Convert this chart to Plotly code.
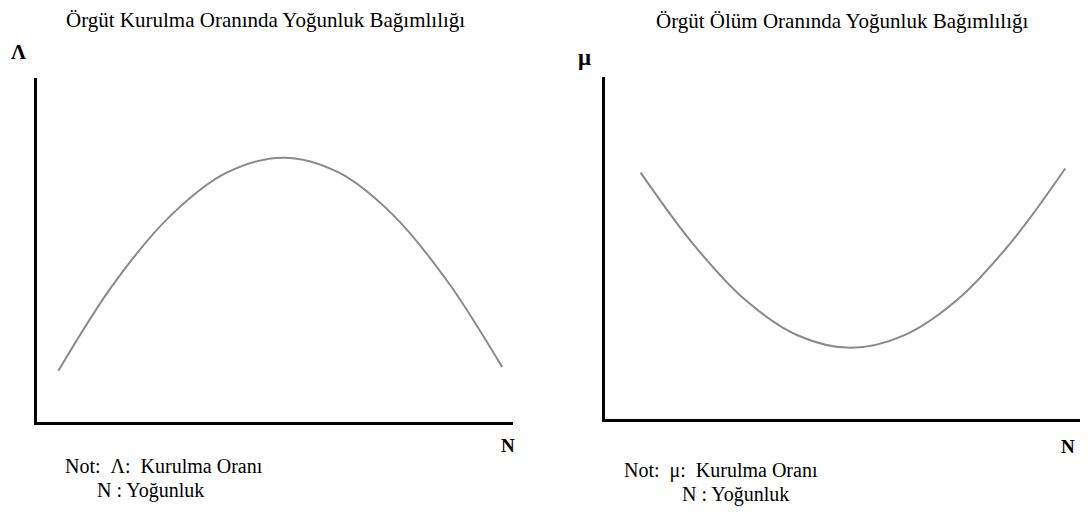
import plotly.graph_objects as go

W, H = 1090, 516
OFF = 8  # page body margin offset

# Left panel: founding rate vs density
left_N = [4.6, 16.3, 28.2, 40.0, 51.9, 63.4, 74.7, 86.2, 97.7]
left_rate = [14.8, 40.3, 60.0, 72.5, 76.8, 72.5, 60.3, 40.9, 15.9]

# Right panel: mortality rate vs density
right_N = [7.6, 18.7, 29.7, 40.7, 51.8, 63.1, 74.3, 85.5, 96.9]
right_rate = [72.0, 51.0, 34.6, 24.3, 20.7, 24.4, 34.9, 51.6, 73.2]

title_left = "Örgüt Kurulma Oranında Yoğunluk Bağımlılığı"
title_right = "Örgüt Ölüm Oranında Yoğunluk Bağımlılığı"

def px(x):
    return (x - OFF) / W

def py(y):
    return 1 - (y - OFF) / H

fig = go.Figure()
line_style = dict(color="#8a8a8a", width=2, shape="spline", smoothing=1.0)
fig.add_trace(go.Scatter(x=left_N, y=left_rate, mode="lines", line=line_style,
                         xaxis="x", yaxis="y", showlegend=False, hoverinfo="skip"))
fig.add_trace(go.Scatter(x=right_N, y=right_rate, mode="lines", line=line_style,
                         xaxis="x2", yaxis="y2", showlegend=False, hoverinfo="skip"))

ax_common = dict(showgrid=False, zeroline=False, showticklabels=False, ticks="",
                 showline=True, linecolor="black", linewidth=3, range=[0, 100], fixedrange=True)

serif = "Times New Roman, Liberation Serif, DejaVu Serif, serif"
fig.update_layout(
    width=W, height=H,
    margin=dict(l=0, r=0, t=0, b=0),
    paper_bgcolor="white", plot_bgcolor="white",
    xaxis=dict(domain=[px(36.5), px(513)], anchor="y", **ax_common),
    yaxis=dict(domain=[py(421.5), py(78)], anchor="x", **ax_common),
    xaxis2=dict(domain=[px(604.5), px(1080)], anchor="y2", **ax_common),
    yaxis2=dict(domain=[py(418.5), py(77)], anchor="x2", **ax_common),
    font=dict(family=serif, color="black"),
)

def ann(x, y, text, size=17, bold=False, xanchor="center"):
    t = f"<b>{text}</b>" if bold else text
    fig.add_annotation(x=px(x), y=py(y), xref="paper", yref="paper", text=t,
                       showarrow=False, xanchor=xanchor, yanchor="middle",
                       font=dict(family=serif, size=size, color="black"))

ann(265, 20, title_left, size=21)
ann(842, 21, title_right, size=21)
ann(18, 52, "Λ", size=21, bold=True)
ann(584, 58, "μ", size=23, bold=True)
ann(508, 445, "N", size=19, bold=True)
ann(1068, 446, "N", size=19, bold=True)
ann(63, 466, "Not:  Λ:  Kurulma Oranı", size=20, xanchor="left")
ann(95, 490, "N : Yoğunluk", size=20, xanchor="left")
ann(622, 470, "Not:  μ:  Kurulma Oranı", size=20, xanchor="left")
ann(680, 494, "N : Yoğunluk", size=20, xanchor="left")

fig.write_html("out.html")
